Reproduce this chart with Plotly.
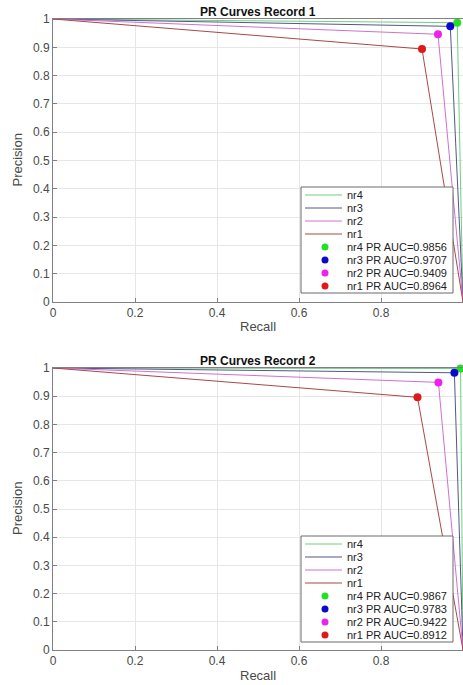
import plotly.graph_objects as go

# ---------------- data ----------------
names = ["nr4", "nr3", "nr2", "nr1"]

rec1_recall = [0.986, 0.969, 0.939, 0.900]
rec1_precision = [0.987, 0.974, 0.946, 0.894]
rec1_auc = [0.9856, 0.9707, 0.9409, 0.8964]

rec2_recall = [0.994, 0.979, 0.940, 0.889]
rec2_precision = [0.998, 0.983, 0.949, 0.896]
rec2_auc = [0.9867, 0.9783, 0.9422, 0.8912]

titles = ["PR Curves Record 1", "PR Curves Record 2"]
x_tick_vals = [0, 0.2, 0.4, 0.6, 0.8, 1]
x_tick_text = ["0", "0.2", "0.4", "0.6", "0.8", "1"]
y_tick_vals = [0, 0.1, 0.2, 0.3, 0.4, 0.5, 0.6, 0.7, 0.8, 0.9, 1]
y_tick_text = ["0", "0.1", "0.2", "0.3", "0.4", "0.5", "0.6", "0.7", "0.8", "0.9", "1"]

# ---------------- styles ----------------
line_colors = ["#6fcf7f", "#55558a", "#d070d0", "#a84848"]
marker_colors = ["#22e022", "#0a0acc", "#ee22ee", "#e01818"]
FONT = "Liberation Sans, Arial, sans-serif"
TXT = "#4a4a4a"

W, H = 463, 685
L = 53
PW = W - L


def px_x(x):
    return (x - L) / PW


def px_y(y):
    return 1 - y / H


panels = [
    dict(recall=rec1_recall, precision=rec1_precision, auc=rec1_auc, top=19, bottom=302, sfx=""),
    dict(recall=rec2_recall, precision=rec2_precision, auc=rec2_auc, top=368, bottom=650, sfx="2"),
]

fig = go.Figure()
shapes = []
annotations = []

for pi, p in enumerate(panels):
    xa = "x" + p["sfx"]
    ya = "y" + p["sfx"]
    for i, n in enumerate(names):
        fig.add_trace(go.Scatter(
            x=[0, p["recall"][i], 1], y=[1, p["precision"][i], 0],
            mode="lines", line=dict(color=line_colors[i], width=1),
            xaxis=xa, yaxis=ya, showlegend=False, name=n, hoverinfo="skip"))
    for i, n in enumerate(names):
        fig.add_trace(go.Scatter(
            x=[p["recall"][i]], y=[p["precision"][i]],
            mode="markers", marker=dict(color=marker_colors[i], size=8, line=dict(width=0)),
            xaxis=xa, yaxis=ya, showlegend=False, cliponaxis=False,
            name=f"{n} PR AUC={p['auc'][i]:.4f}"))

    axcommon = dict(showline=True, linecolor="#808080", linewidth=1, mirror=True,
                    ticks="inside", ticklen=4, tickcolor="#808080",
                    showgrid=True, gridcolor="#e6e6e6", gridwidth=1, zeroline=False,
                    tickfont=dict(family=FONT, size=12, color=TXT), automargin=False)
    dom = [px_y(p["bottom"]), px_y(p["top"])]
    fig.update_layout(**{
        "xaxis" + p["sfx"]: dict(domain=[0, 1], anchor=ya, range=[0, 1],
                                 tickvals=x_tick_vals, ticktext=x_tick_text, **axcommon),
        "yaxis" + p["sfx"]: dict(domain=dom, anchor=xa, range=[0, 1],
                                 tickvals=y_tick_vals, ticktext=y_tick_text, **axcommon),
    })

    top = p["top"]
    # title and axis titles
    annotations.append(dict(text="<b>" + titles[pi] + "</b>", xref="paper", yref="paper",
                            x=px_x(258), y=px_y(top - 7), xanchor="center", yanchor="middle",
                            showarrow=False, font=dict(family=FONT, size=12, color="#111111")))
    annotations.append(dict(text="Recall", xref="paper", yref="paper",
                            x=px_x(258), y=px_y(top + 307), xanchor="center", yanchor="middle",
                            showarrow=False, font=dict(family=FONT, size=13, color=TXT)))
    annotations.append(dict(text="Precision", xref="paper", yref="paper",
                            x=px_x(17), y=px_y((top + p["bottom"]) / 2), xanchor="center",
                            yanchor="middle", textangle=-90,
                            showarrow=False, font=dict(family=FONT, size=13, color=TXT)))

    # custom legend box
    shapes.append(dict(type="rect", xref="paper", yref="paper",
                       x0=px_x(301), x1=px_x(453), y0=px_y(top + 168), y1=px_y(top + 274),
                       fillcolor="white", line=dict(color="#6a6a6a", width=1), layer="above"))
    for i, n in enumerate(names):
        yy = top + 176 + 13 * i
        shapes.append(dict(type="line", xref="paper", yref="paper",
                           x0=px_x(305), x1=px_x(342), y0=px_y(yy), y1=px_y(yy),
                           line=dict(color=line_colors[i], width=1), layer="above"))
        annotations.append(dict(text=n, xref="paper", yref="paper", x=px_x(345), y=px_y(yy),
                                xanchor="left", yanchor="middle", showarrow=False,
                                font=dict(family=FONT, size=11, color="#222222")))
    for i, n in enumerate(names):
        yy = top + 176 + 13 * (i + 4)
        r = 3.5
        shapes.append(dict(type="circle", xref="paper", yref="paper",
                           x0=px_x(325 - r), x1=px_x(325 + r), y0=px_y(yy + r), y1=px_y(yy - r),
                           fillcolor=marker_colors[i], line=dict(width=0), layer="above"))
        annotations.append(dict(text=f"{n} PR AUC={p['auc'][i]:.4f}", xref="paper", yref="paper",
                                x=px_x(345), y=px_y(yy),
                                xanchor="left", yanchor="middle", showarrow=False,
                                font=dict(family=FONT, size=11, color="#222222")))

fig.update_layout(width=W, height=H, margin=dict(l=L, r=0, t=0, b=0),
                  paper_bgcolor="white", plot_bgcolor="white",
                  showlegend=False, shapes=shapes, annotations=annotations,
                  font=dict(family=FONT))

fig.write_html("out.html")
